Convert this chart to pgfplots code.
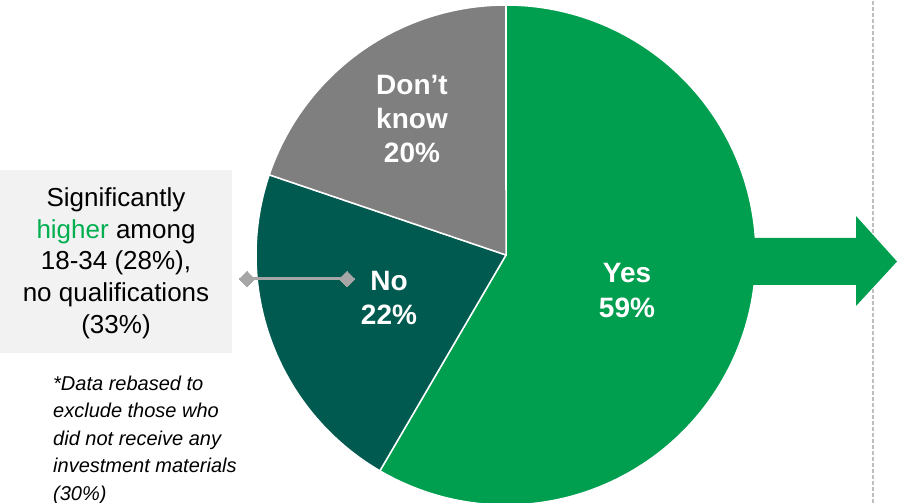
\documentclass[border=0pt]{standalone}
\usepackage{pgfplots}
\pgfplotsset{compat=1.18}
\usepackage{fontspec}
\setmainfont{Liberation Sans}
\definecolor{yesgreen}{RGB}{0,158,79}
\definecolor{nogreen}{RGB}{0,90,79}
\definecolor{dkgray}{RGB}{127,127,127}
\definecolor{hlgreen}{RGB}{0,176,80}
\definecolor{boxgray}{RGB}{242,242,242}
\definecolor{lnkgray}{RGB}{166,166,166}
\definecolor{dashgray}{RGB}{191,191,191}
% slice values (percent, as labelled)
\def\vYes{59}
\def\vNo{22}
\def\vDK{20}
\pgfmathsetmacro{\vTot}{\vYes+\vNo+\vDK}
\pgfmathsetmacro{\aA}{90}
\pgfmathsetmacro{\aB}{90-\vYes/\vTot*360}
\pgfmathsetmacro{\aC}{\aB-\vNo/\vTot*360}
\pgfmathsetmacro{\aD}{\aC-\vDK/\vTot*360}
\def\cx{506}
\def\cy{248}
\def\rr{250}
\begin{document}
\begin{tikzpicture}
\begin{axis}[name=ax, at={(0,0)}, anchor=south west,
  width=897pt, height=503pt, scale only axis,
  xmin=0, xmax=897, ymin=0, ymax=503, hide axis]
% left box
\addplot[fill=boxgray, draw=none] coordinates {(0,150) (232,150) (232,333) (0,333)} -- cycle;
% dashed divider
\addplot[dashgray, line width=1.5pt, dash pattern=on 4pt off 2pt] coordinates {(873,0) (873,503)};
% pie
\addplot[fill=yesgreen, draw=white, line width=1.5pt, domain=\aB:\aA, samples=150, variable=\t]
  ({\cx+\rr*cos(\t)},{\cy+\rr*sin(\t)}) -- (axis cs:\cx,\cy) -- cycle;
\addplot[fill=nogreen, draw=white, line width=1.5pt, domain=\aC:\aB, samples=80, variable=\t]
  ({\cx+\rr*cos(\t)},{\cy+\rr*sin(\t)}) -- (axis cs:\cx,\cy) -- cycle;
\addplot[fill=dkgray, draw=white, line width=1.5pt, domain=\aD:\aC, samples=80, variable=\t]
  ({\cx+\rr*cos(\t)},{\cy+\rr*sin(\t)}) -- (axis cs:\cx,\cy) -- cycle;
% arrow
\addplot[fill=yesgreen, draw=none] coordinates {(740,265) (856,265) (856,287) (897,241.5) (856,197) (856,218) (740,218)} -- cycle;
% connector
\addplot[lnkgray, line width=3pt, mark=square*, mark size=5.6pt, mark options={rotate=45, fill=lnkgray, draw=lnkgray, line width=0pt}] coordinates {(247,224) (347,224)};
% labels
\node[text=white, align=center, font=\bfseries\fontsize{28}{35}\selectfont] at (axis cs:627,212.5) {Yes\\59\%};
\node[text=white, align=center, font=\bfseries\fontsize{28}{34}\selectfont] at (axis cs:389,205) {No\\22\%};
\node[text=white, align=center, font=\bfseries\fontsize{28}{34}\selectfont] at (axis cs:412,384) {Don’t\\know\\20\%};
\node[align=center, font=\fontsize{26}{31.7}\selectfont] at (axis cs:116,240) {Significantly\\\textcolor{hlgreen}{higher} among\\18-34 (28\%),\\no qualifications\\(33\%)};
\node[align=left, anchor=north west, inner sep=0pt, font=\itshape\fontsize{20}{27.5}\selectfont] at (axis cs:53,127.5) {*Data rebased to\\exclude those who\\did not receive any\\investment materials\\(30\%)};
\end{axis}
\pgfresetboundingbox
\path[use as bounding box] (ax.south west) rectangle (ax.north east);
\end{tikzpicture}
\end{document}
